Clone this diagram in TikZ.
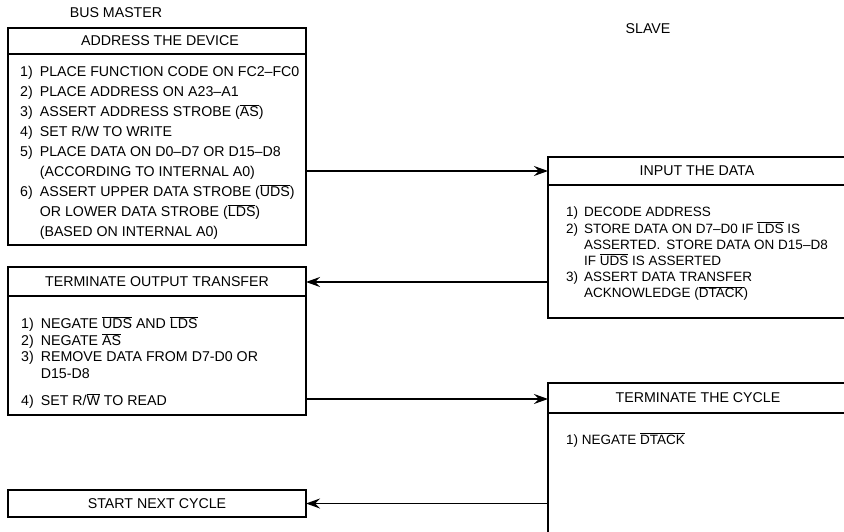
\documentclass[tikz,border=0pt]{standalone}
\usepackage{fontspec}
\setmainfont{Liberation Sans}
\usetikzlibrary{arrows.meta}
\newcommand{\ovl}[1]{$\overline{\hbox{#1}}$}
\begin{document}
\begin{tikzpicture}[x=1pt,y=-1pt,
  boxline/.style={draw, line width=1.3pt},
  lbl/.style={font=\fontsize{14.2}{16}\selectfont, inner sep=0pt},
  bodytext/.style={inner sep=0pt, anchor=north west, align=left},
  arr/.style={line width=1.3pt, -{Stealth[length=14pt,width=10pt,inset=5pt]}}]
\useasboundingbox (0,0) rectangle (844,532);
% titles
\node[lbl] (bm) at (116,13) {BUS MASTER};
\node[lbl] (sl) at (648,29) {SLAVE};
% box 1: address the device
\draw[boxline] (8,28) rectangle (306,54);
\node[lbl] (adH) at (160,41) {ADDRESS THE DEVICE};
\draw[boxline] (8,54) rectangle (306,245);
\coordinate (adE) at (306,171);
\node[bodytext] (adT) at (20,62.5) {\fontsize{14.2}{20}\selectfont
\begin{tabular}{@{}l@{\hspace{7pt}}l@{}}
1) & PLACE FUNCTION CODE ON FC2--FC0\\
2) & PLACE ADDRESS ON A23--A1\\
3) & ASSERT ADDRESS STROBE (\ovl{AS})\\
4) & SET R/W TO WRITE\\
5) & PLACE DATA ON D0--D7 OR D15--D8\\
   & (ACCORDING TO INTERNAL A0)\\
6) & ASSERT UPPER DATA STROBE (\ovl{UDS})\\
   & OR LOWER DATA STROBE (\ovl{LDS})\\
   & (BASED ON INTERNAL A0)
\end{tabular}};
% box 2: terminate output transfer
\draw[boxline] (8,267) rectangle (306,296);
\node[lbl] (toH) at (157,282) {TERMINATE OUTPUT TRANSFER};
\draw[boxline] (8,296) rectangle (306,415);
\coordinate (toHE) at (306,282);
\coordinate (toE) at (306,399);
\node[bodytext] (toT) at (21,316.5) {\fontsize{14.2}{16.5}\selectfont
\begin{tabular}{@{}l@{\hspace{7pt}}l@{}}
1) & NEGATE \ovl{UDS} AND \ovl{LDS}\\
2) & NEGATE \ovl{AS}\\
3) & REMOVE DATA FROM D7-D0 OR\\
   & D15-D8\\[10pt]
4) & SET R/\ovl{W} TO READ
\end{tabular}};
% box 3: start next cycle
\draw[boxline] (8,490) rectangle (306,517);
\node[lbl] (stH) at (157,503.5) {START NEXT CYCLE};
\coordinate (stE) at (306,503.5);
% slave box: input the data
\draw[boxline] (850,157) -- (548,157) -- (548,318) -- (850,318);
\draw[boxline] (548,185) -- (850,185);
\node[lbl] (inH) at (697,171) {INPUT THE DATA};
\coordinate (inW) at (548,171);
\coordinate (inB) at (548,282);
\node[bodytext] (inT) at (566,205.5) {\fontsize{13.5}{16}\selectfont
\begin{tabular}{@{}l@{\hspace{6pt}}l@{}}
1) & DECODE ADDRESS\\
2) & STORE DATA ON D7--D0 IF \ovl{LDS} IS\\
   & ASSERTED.\hspace{6pt}STORE DATA ON D15--D8\\
   & IF \ovl{UDS} IS ASSERTED\\
3) & ASSERT DATA TRANSFER\\
   & ACKNOWLEDGE (\ovl{DTACK})
\end{tabular}};
% slave box: terminate the cycle
\draw[boxline] (850,383) -- (548,383) -- (548,540);
\draw[boxline] (548,413) -- (850,413);
\node[lbl] (cyH) at (698,398) {TERMINATE THE CYCLE};
\coordinate (cyW) at (548,399);
\coordinate (cyB) at (548,503.5);
\node[lbl, anchor=west, font=\fontsize{13.5}{16}\selectfont] (cyT) at (566,440) {1) NEGATE \ovl{DTACK}};
% connectors
\draw[arr] (adE) -- (inW);
\draw[arr] (inB) -- (toHE);
\draw[arr] (toE) -- (cyW);
\draw[arr] (cyB) -- (stE);
\end{tikzpicture}
\end{document}
